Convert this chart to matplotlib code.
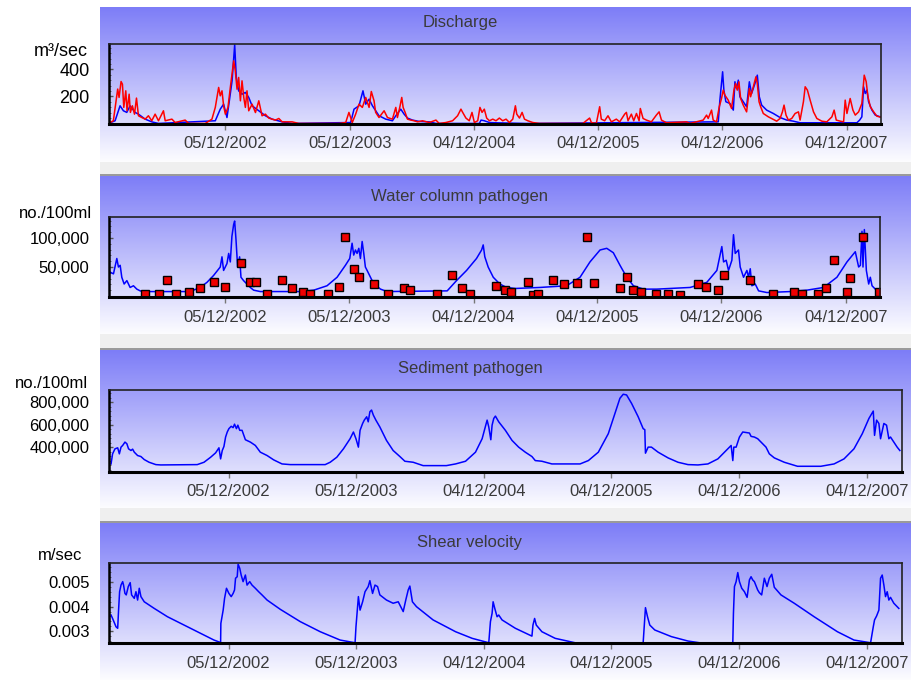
import numpy as np
import pandas as pd
import matplotlib.pyplot as plt
from matplotlib.patches import Rectangle
from matplotlib.ticker import AutoMinorLocator

plt.rcParams['font.family'] = ['Liberation Sans', 'DejaVu Sans']

# x tick labels (dd/mm/yyyy), shared by all panels
tick_labels_a = ["05/12/2002", "05/12/2003", "04/12/2004", "04/12/2005", "04/12/2006", "04/12/2007"]

# Discharge, m3/sec - observed (red) and simulated (blue); times in decimal years
dis_obs_t = [2001.985, 2002.025, 2002.060, 2002.071, 2002.087, 2002.098, 2002.109, 2002.125, 2002.135, 2002.152,
             2002.162, 2002.178, 2002.195, 2002.211, 2002.227, 2002.254, 2002.281, 2002.307, 2002.334, 2002.361,
             2002.388, 2002.428, 2002.442, 2002.496, 2002.522, 2002.603, 2002.630, 2002.764, 2002.818, 2002.845,
             2002.872, 2002.885, 2002.899, 2002.912, 2002.926, 2002.947, 2002.966, 2002.980, 2002.993, 2003.006,
             2003.020, 2003.033, 2003.047, 2003.060, 2003.074, 2003.087, 2003.100, 2003.114, 2003.141, 2003.168,
             2003.195, 2003.221, 2003.248, 2003.275, 2003.302, 2003.329, 2003.356, 2003.383, 2003.463, 2003.517,
             2003.840, 2003.894, 2003.920, 2003.947, 2003.974, 2004.001, 2004.028, 2004.055, 2004.082, 2004.100,
             2004.122, 2004.135, 2004.162, 2004.203, 2004.230, 2004.270, 2004.297, 2004.310, 2004.329, 2004.345,
             2004.356, 2004.372, 2004.391, 2004.418, 2004.445, 2004.472, 2004.512, 2004.566, 2004.620, 2004.646,
             2004.700, 2004.754, 2004.794, 2004.821, 2004.835, 2004.861, 2004.888, 2004.910, 2004.929, 2004.956,
             2004.974, 2004.991, 2005.009, 2005.028, 2005.050, 2005.077, 2005.103, 2005.130, 2005.157, 2005.184,
             2005.211, 2005.238, 2005.259, 2005.270, 2005.292, 2005.313, 2005.332, 2005.359, 2005.399, 2005.453,
             2005.802, 2005.829, 2005.856, 2005.870, 2005.910, 2005.937, 2005.950, 2005.977, 2006.004, 2006.031,
             2006.071, 2006.098, 2006.138, 2006.152, 2006.165, 2006.192, 2006.211, 2006.233, 2006.254, 2006.264,
             2006.286, 2006.313, 2006.353, 2006.393, 2006.415, 2006.434, 2006.474, 2006.635, 2006.662, 2006.770,
             2006.797, 2006.810, 2006.837, 2006.850, 2006.877, 2006.899, 2006.917, 2006.931, 2006.944, 2006.971,
             2006.998, 2007.017, 2007.030, 2007.044, 2007.057, 2007.071, 2007.092, 2007.119, 2007.141, 2007.151,
             2007.173, 2007.194, 2007.205, 2007.219, 2007.232, 2007.253, 2007.294, 2007.334, 2007.361, 2007.388,
             2007.407, 2007.420, 2007.436, 2007.455, 2007.482, 2007.509, 2007.536, 2007.549, 2007.576, 2007.590,
             2007.608, 2007.630, 2007.657, 2007.684, 2007.724, 2007.764, 2007.805, 2007.823, 2007.840, 2007.872,
             2007.899, 2007.912, 2007.926, 2007.952, 2007.974, 2007.993, 2008.020, 2008.046, 2008.065, 2008.081,
             2008.095, 2008.114, 2008.141, 2008.167, 2008.208]
dis_obs = [0, 20, 255, 193, 311, 291, 119, 242, 94, 217,
           82, 131, 69, 188, 57, 44, 32, 57, 20, 69,
           20, 94, 20, 32, 7, 25, 0, 0, 32, 119,
           267, 205, 242, 131, 69, 119, 267, 366, 464, 390,
           254, 341, 168, 316, 193, 119, 242, 94, 143, 81,
           168, 57, 69, 40, 32, 25, 37, 12, 12, 0,
           0, 7, 82, 7, 69, 143, 119, 193, 119, 237,
           168, 82, 44, 94, 44, 32, 119, 44, 119, 193,
           119, 82, 32, 25, 20, 12, 20, 7, 25, 0,
           7, 20, 57, 106, 82, 40, 20, 82, 7, 20,
           119, 82, 106, 40, 20, 32, 20, 40, 20, 32,
           7, 32, 131, 69, 40, 82, 32, 20, 7, 0,
           0, 20, 40, 7, 0, 124, 32, 20, 57, 12,
           32, 12, 69, 82, 20, 69, 20, 74, 20, 111,
           37, 25, 12, 62, 86, 25, 5, 12, 0, 25,
           62, 37, 99, 25, 12, 124, 185, 247, 210, 173,
           111, 247, 296, 247, 309, 185, 136, 86, 259, 198,
           272, 346, 296, 161, 124, 74, 49, 30, 17, 37,
           86, 136, 62, 25, 37, 74, 86, 25, 161, 272,
           247, 173, 86, 37, 17, 12, 49, 99, 25, 17,
           12, 173, 74, 185, 99, 62, 86, 148, 358, 309,
           198, 124, 86, 54, 44]

dis_sim_t = [2001.985, 2002.039, 2002.079, 2002.106, 2002.133, 2002.160, 2002.200, 2002.227, 2002.281, 2002.334,
             2002.388, 2002.845, 2002.885, 2002.912, 2002.939, 2002.958, 2002.980, 2003.001, 2003.014, 2003.033,
             2003.060, 2003.087, 2003.114, 2003.141, 2003.195, 2003.248, 2003.302, 2003.383, 2003.463, 2003.934,
             2003.961, 2004.001, 2004.033, 2004.055, 2004.082, 2004.109, 2004.162, 2004.216, 2004.270, 2004.297,
             2004.337, 2004.364, 2004.391, 2004.431, 2004.485, 2004.566, 2004.620, 2004.969, 2004.983, 2005.009,
             2005.050, 2005.103, 2005.345, 2006.891, 2006.904, 2006.926, 2006.936, 2006.952, 2006.985, 2007.012,
             2007.025, 2007.038, 2007.052, 2007.065, 2007.092, 2007.119, 2007.141, 2007.159, 2007.186, 2007.205,
             2007.221, 2007.240, 2007.280, 2007.334, 2007.388, 2007.442, 2007.495, 2007.549, 2008.006, 2008.028,
             2008.046, 2008.060, 2008.073, 2008.087, 2008.100, 2008.127, 2008.154, 2008.208]
dis_sim = [0, 20, 131, 94, 82, 131, 82, 69, 32, 12,
           0, 20, 106, 143, 44, 168, 316, 583, 341, 242,
           217, 230, 193, 131, 94, 57, 32, 12, 0, 7,
           106, 131, 242, 143, 180, 131, 57, 32, 20, 57,
           106, 69, 40, 25, 15, 12, 0, 0, 25, 20,
           7, 5, 0, 12, 173, 383, 247, 161, 148, 99,
           309, 259, 321, 198, 161, 124, 309, 222, 296, 358,
           198, 136, 99, 74, 44, 25, 17, 5, 5, 25,
           49, 272, 222, 247, 161, 99, 62, 44]

# Water column pathogen, no./100ml - simulated line and observed samples
wc_sim_t = [2001.999, 2002.026, 2002.053, 2002.066, 2002.080, 2002.093, 2002.112, 2002.134, 2002.160, 2002.187,
            2002.214, 2002.241, 2002.268, 2002.617, 2002.671, 2002.725, 2002.779, 2002.832, 2002.886, 2002.900,
            2002.913, 2002.940, 2002.954, 2002.967, 2002.980, 2002.994, 2003.002, 2003.013, 2003.026, 2003.042,
            2003.053, 2003.074, 2003.101, 2003.128, 2003.155, 2003.209, 2003.531, 2003.639, 2003.746, 2003.827,
            2003.894, 2003.929, 2003.948, 2003.961, 2003.975, 2003.988, 2004.002, 2004.015, 2004.029, 2004.042,
            2004.055, 2004.069, 2004.096, 2004.123, 2004.177, 2004.230, 2004.714, 2004.789, 2004.870, 2004.950,
            2004.991, 2005.004, 2005.017, 2005.044, 2005.085, 2005.138, 2005.192, 2005.259, 2005.461, 2005.676,
            2005.784, 2005.864, 2005.945, 2005.999, 2006.052, 2006.106, 2006.160, 2006.214, 2006.294, 2006.402,
            2006.671, 2006.805, 2006.886, 2006.926, 2006.940, 2006.961, 2006.980, 2007.007, 2007.020, 2007.034,
            2007.060, 2007.074, 2007.101, 2007.128, 2007.141, 2007.155, 2007.168, 2007.195, 2007.222, 2007.289,
            2007.477, 2007.611, 2007.746, 2007.853, 2007.934, 2008.001, 2008.028, 2008.042, 2008.055, 2008.063,
            2008.074, 2008.090, 2008.109, 2008.122, 2008.136, 2008.176, 2008.198]
wc_sim = [41200, 38200, 64700, 50000, 52900, 32300, 20600, 26500, 14700, 17600,
          11800, 8800, 7600, 7600, 10000, 14700, 23500, 35300, 50000, 67600,
          44100, 55900, 73500, 58800, 102900, 123500, 129400, 97000, 50000, 67600,
          32300, 26500, 20600, 14700, 10000, 7600, 7600, 10000, 17600, 32300,
          52900, 64700, 91100, 70600, 79400, 73500, 82300, 64700, 94100, 73500,
          50000, 44100, 32300, 20600, 11800, 7600, 8800, 26500, 44100, 64700,
          79400, 88200, 67600, 50000, 32300, 20600, 14700, 12900, 14700, 17600,
          32300, 58800, 79400, 82300, 74700, 52900, 32300, 17600, 11800, 11800,
          14700, 23500, 44100, 85300, 58800, 61700, 44100, 61700, 105800, 73500,
          79400, 50000, 32300, 44100, 32300, 47000, 17600, 20600, 8800, 5900,
          7600, 10000, 14700, 32300, 58800, 76400, 50000, 52900, 111700, 50000,
          114700, 44100, 20600, 32300, 17600, 8800, 5900]

wc_obs_t = [2002.281, 2002.389, 2002.456, 2002.531, 2002.634, 2002.720, 2002.832, 2002.927, 2003.053, 2003.123,
            2003.177, 2003.263, 2003.384, 2003.461, 2003.553, 2003.607, 2003.752, 2003.840, 2003.889, 2003.967,
            2004.007, 2004.123, 2004.238, 2004.370, 2004.413, 2004.634, 2004.755, 2004.837, 2004.897, 2005.104,
            2005.179, 2005.224, 2005.362, 2005.402, 2005.442, 2005.563, 2005.652, 2005.757, 2005.837, 2005.897,
            2006.106, 2006.160, 2006.214, 2006.276, 2006.397, 2006.496, 2006.590, 2006.738, 2006.800, 2006.894,
            2006.940, 2007.155, 2007.335, 2007.504, 2007.571, 2007.700, 2007.765, 2007.827, 2007.934, 2007.961,
            2008.063, 2008.190]
wc_obs = [4100, 4100, 28200, 4100, 7600, 12900, 23500, 15900, 57000, 23500,
          23500, 4100, 28200, 12900, 7600, 4100, 4100, 15900, 101100, 45900,
          32900, 20000, 4100, 12900, 10000, 4100, 35900, 12900, 4100, 17600,
          10000, 7600, 23500, 1800, 4100, 28200, 20000, 22900, 101100, 22900,
          12900, 32900, 10000, 7600, 4100, 4100, 1800, 20000, 14700, 10000,
          35900, 28200, 4100, 7600, 4100, 4100, 12900, 62300, 7600, 30600,
          101100, 7100]

# Sediment pathogen, no./100ml
sed_t = [2002.006, 2002.018, 2002.037, 2002.058, 2002.071, 2002.084, 2002.097, 2002.115, 2002.130, 2002.143,
         2002.162, 2002.175, 2002.188, 2002.214, 2002.240, 2002.266, 2002.304, 2002.357, 2002.395, 2002.681,
         2002.734, 2002.786, 2002.825, 2002.851, 2002.864, 2002.877, 2002.890, 2002.903, 2002.916, 2002.929,
         2002.947, 2002.962, 2002.973, 2002.988, 2002.999, 2003.014, 2003.032, 2003.058, 2003.097, 2003.136,
         2003.175, 2003.228, 2003.280, 2003.345, 2003.410, 2003.683, 2003.722, 2003.774, 2003.826, 2003.878,
         2003.904, 2003.924, 2003.943, 2003.956, 2003.976, 2003.989, 2004.008, 2004.020, 2004.033, 2004.046,
         2004.060, 2004.080, 2004.111, 2004.163, 2004.215, 2004.268, 2004.307, 2004.372, 2004.450, 2004.632,
         2004.704, 2004.782, 2004.860, 2004.912, 2004.951, 2004.964, 2004.980, 2004.990, 2005.003, 2005.016,
         2005.042, 2005.094, 2005.146, 2005.198, 2005.250, 2005.302, 2005.328, 2005.380, 2005.458, 2005.679,
         2005.744, 2005.822, 2005.900, 2005.952, 2005.991, 2006.017, 2006.043, 2006.082, 2006.134, 2006.173,
         2006.186, 2006.191, 2006.212, 2006.238, 2006.290, 2006.368, 2006.446, 2006.524, 2006.602, 2006.680,
         2006.758, 2006.823, 2006.862, 2006.875, 2006.883, 2006.901, 2006.927, 2006.953, 2007.005, 2007.018,
         2007.044, 2007.070, 2007.096, 2007.135, 2007.161, 2007.200, 2007.278, 2007.382, 2007.564, 2007.668,
         2007.746, 2007.824, 2007.889, 2007.941, 2007.975, 2007.985, 2008.001, 2008.019, 2008.032, 2008.058,
         2008.079, 2008.097, 2008.110, 2008.136, 2008.162, 2008.183]
sed = [250000, 340000, 385000, 394000, 340000, 400000, 415000, 445000, 430000, 385000,
       370000, 382000, 355000, 325000, 316000, 289000, 265000, 244000, 241000, 244000,
       265000, 310000, 349000, 394000, 295000, 370000, 406000, 490000, 535000, 565000,
       586000, 574000, 605000, 565000, 596000, 550000, 550000, 466000, 445000, 415000,
       355000, 325000, 286000, 250000, 244000, 244000, 265000, 310000, 385000, 475000,
       535000, 475000, 400000, 550000, 611000, 641000, 671000, 626000, 716000, 731000,
       686000, 641000, 580000, 460000, 370000, 316000, 274000, 265000, 235000, 235000,
       250000, 274000, 355000, 475000, 641000, 580000, 466000, 596000, 656000, 677000,
       626000, 550000, 460000, 400000, 355000, 316000, 280000, 274000, 250000, 250000,
       280000, 355000, 520000, 701000, 836000, 872000, 866000, 791000, 671000, 565000,
       556000, 346000, 400000, 400000, 355000, 304000, 265000, 244000, 241000, 250000,
       295000, 370000, 415000, 280000, 400000, 400000, 490000, 535000, 526000, 496000,
       490000, 475000, 445000, 400000, 340000, 304000, 265000, 229000, 229000, 250000,
       295000, 385000, 520000, 656000, 722000, 505000, 641000, 611000, 475000, 611000,
       596000, 475000, 490000, 445000, 400000, 370000]

# Shear velocity, m/sec
shear_t = [2002.006, 2002.018, 2002.045, 2002.058, 2002.065, 2002.073, 2002.084, 2002.097, 2002.104, 2002.115,
           2002.125, 2002.141, 2002.156, 2002.167, 2002.188, 2002.201, 2002.214, 2002.227, 2002.240, 2002.266,
           2002.344, 2002.448, 2002.578, 2002.708, 2002.812, 2002.864, 2002.866, 2002.884, 2002.895, 2002.910,
           2002.929, 2002.947, 2002.962, 2002.973, 2002.981, 2002.994, 2003.001, 2003.014, 2003.025, 2003.040,
           2003.058, 2003.071, 2003.092, 2003.110, 2003.136, 2003.162, 2003.188, 2003.228, 2003.332, 2003.488,
           2003.644, 2003.800, 2003.917, 2003.924, 2003.943, 2003.956, 2003.976, 2003.995, 2004.020, 2004.033,
           2004.054, 2004.073, 2004.093, 2004.111, 2004.163, 2004.215, 2004.255, 2004.294, 2004.314, 2004.333,
           2004.346, 2004.366, 2004.398, 2004.528, 2004.704, 2004.834, 2004.964, 2004.977, 2004.990, 2004.998,
           2005.011, 2005.029, 2005.042, 2005.068, 2005.172, 2005.302, 2005.310, 2005.323, 2005.336, 2005.380,
           2005.484, 2005.640, 2005.796, 2006.173, 2006.181, 2006.191, 2006.207, 2006.225, 2006.264, 2006.394,
           2006.524, 2006.615, 2006.719, 2006.875, 2006.880, 2006.888, 2006.901, 2006.914, 2006.927, 2006.945,
           2006.966, 2006.987, 2007.005, 2007.018, 2007.031, 2007.044, 2007.070, 2007.083, 2007.101, 2007.122,
           2007.143, 2007.161, 2007.180, 2007.200, 2007.252, 2007.356, 2007.512, 2007.694, 2007.824, 2007.954,
           2007.975, 2007.985, 2008.001, 2008.019, 2008.032, 2008.045, 2008.058, 2008.071, 2008.084, 2008.097,
           2008.110, 2008.136, 2008.175]
shear = [0.00366, 0.00352, 0.00318, 0.00312, 0.00386, 0.00461, 0.00488, 0.00502, 0.00488, 0.00454,
         0.00448, 0.00482, 0.00498, 0.00448, 0.00434, 0.00461, 0.00427, 0.00475, 0.00441, 0.00420,
         0.00393, 0.00359, 0.00325, 0.00291, 0.00264, 0.00254, 0.00332, 0.00386, 0.00434, 0.00475,
         0.00454, 0.00441, 0.00454, 0.00468, 0.00516, 0.00522, 0.00573, 0.00556, 0.00529, 0.00502,
         0.00529, 0.00488, 0.00502, 0.00488, 0.00475, 0.00461, 0.00448, 0.00427, 0.00389, 0.00339,
         0.00298, 0.00264, 0.00253, 0.00318, 0.00441, 0.00386, 0.00420, 0.00461, 0.00482, 0.00506,
         0.00454, 0.00488, 0.00482, 0.00448, 0.00427, 0.00414, 0.00420, 0.00380, 0.00427, 0.00468,
         0.00484, 0.00420, 0.00400, 0.00346, 0.00298, 0.00271, 0.00253, 0.00339, 0.00373, 0.00420,
         0.00393, 0.00359, 0.00366, 0.00346, 0.00312, 0.00280, 0.00325, 0.00352, 0.00325, 0.00298,
         0.00271, 0.00253, 0.00253, 0.00253, 0.00318, 0.00396, 0.00359, 0.00325, 0.00305, 0.00278,
         0.00260, 0.00253, 0.00253, 0.00253, 0.00373, 0.00482, 0.00502, 0.00539, 0.00502, 0.00475,
         0.00461, 0.00438, 0.00509, 0.00522, 0.00509, 0.00502, 0.00468, 0.00457, 0.00448, 0.00516,
         0.00482, 0.00516, 0.00532, 0.00479, 0.00448, 0.00414, 0.00359, 0.00298, 0.00264, 0.00253,
         0.00318, 0.00346, 0.00362, 0.00386, 0.00516, 0.00529, 0.00488, 0.00441, 0.00461, 0.00427,
         0.00438, 0.00414, 0.00393]


def to_year(label):
    d = pd.to_datetime(label, dayfirst=True)
    return d.year + (d.dayofyear - 1) / 365.0


tick_pos = [to_year(s) for s in tick_labels_a]

W, H = 912, 680
fig = plt.figure(figsize=(W / 100, H / 100), dpi=100)

# panel backgrounds: (top px, bottom px)
panels = [(7, 162), (176, 334), (350, 508), (523, 680)]
grad = np.linspace(0, 1, 256).reshape(-1, 1)
top_c = np.array([0.49, 0.49, 0.97])
bot_c = np.array([0.99, 0.99, 1.0])
img = top_c[None, None, :] * (1 - grad[:, :, None]) + bot_c[None, None, :] * grad[:, :, None]

for i, (pt, pb) in enumerate(panels):
    bg = fig.add_axes([100 / W, 1 - pb / H, (W - 100) / W, (pb - pt) / H], zorder=0)
    bg.imshow(img, aspect='auto', extent=[0, 1, 0, 1])
    bg.set_axis_off()
    if i > 0:
        gap_top = panels[i - 1][1]
        fig.patches.append(Rectangle((100 / W, 1 - pt / H), (W - 100) / W, (pt - gap_top) / H,
                                     transform=fig.transFigure, facecolor='#efefef', edgecolor='none'))
        fig.patches.append(Rectangle((100 / W, 1 - pt / H), (W - 100) / W, 2.0 / H,
                                     transform=fig.transFigure, facecolor='#9a9a9a', edgecolor='none'))


def make_axes(left, right, top, bottom, ylim, yticks, ylabels, ysize):
    ax = fig.add_axes([left / W, 1 - bottom / H, (right - left) / W, (bottom - top) / H], zorder=2)
    ax.set_facecolor('none')
    ax.set_xlim(2001.99, 2008.2)
    ax.set_ylim(*ylim)
    ax.set_xticks(tick_pos)
    ax.set_xticklabels(tick_labels_a, fontsize=12, color='#3a3a3a')
    ax.set_yticks(yticks)
    ax.set_yticklabels(ylabels, fontsize=ysize, color='black')
    ax.yaxis.set_minor_locator(AutoMinorLocator(5))
    ax.tick_params(axis='x', direction='out', length=4, width=1, color='#777777', pad=5)
    ax.tick_params(axis='y', which='major', direction='in', length=3, width=1, color='#555555', pad=14)
    ax.tick_params(axis='y', which='minor', direction='in', length=1.5, width=0.6, color='#555555')
    ax.spines['bottom'].set_linewidth(2.2)
    ax.spines['bottom'].set_color('black')
    ax.spines['left'].set_linewidth(1.8)
    ax.spines['left'].set_color('black')
    for s in ('top', 'right'):
        ax.spines[s].set_linewidth(1.2)
        ax.spines[s].set_color('#222222')
    return ax


def title(text, y, x=465):
    fig.text(x / W, 1 - y / H, text, ha='center', va='center', fontsize=12, color='#3a3a3a', zorder=3)


def unit(text, x, y, size=12):
    fig.text(x / W, 1 - y / H, text, ha='right', va='center', fontsize=size, color='black', zorder=3)


# Discharge
ax1 = make_axes(109, 881, 44, 124, (-4, 589), [200, 400], ["200", "400"], 13)
ax1.plot(dis_sim_t, dis_sim, color='#0000ff', lw=1.1)
ax1.plot(dis_obs_t, dis_obs, color='#ff0000', lw=1.1)
title("Discharge", 22, 460)
unit("m³/sec", 88, 52, 13)

# Water column pathogen
ax2 = make_axes(109, 880, 217, 297, (-1800, 136400), [50000, 100000], ["50,000", "100,000"], 12)
ax2.plot(wc_sim_t, wc_sim, color='#0000ff', lw=1.1)
ax2.plot(wc_obs_t, wc_obs, linestyle='none', marker='s', markersize=5.5,
         markerfacecolor='#ee0000', markeredgecolor='black', markeredgewidth=1.0)
title("Water column pathogen", 196, 460)
unit("no./100ml", 92, 214)

# Sediment pathogen
ax3 = make_axes(109, 902, 390, 472, (178000, 910000), [400000, 600000, 800000],
                ["400,000", "600,000", "800,000"], 12)
ax3.plot(sed_t, sed, color='#0000ff', lw=1.1)
title("Sediment pathogen", 369, 470)
unit("no./100ml", 88, 384)

# Shear velocity
ax4 = make_axes(109, 902, 563, 643, (0.00252, 0.00578), [0.003, 0.004, 0.005],
                ["0.003", "0.004", "0.005"], 12)
ax4.plot(shear_t, shear, color='#0000ff', lw=1.1)
title("Shear velocity", 543, 470)
unit("m/sec", 82, 556)

fig.savefig("out.png", dpi=100)
